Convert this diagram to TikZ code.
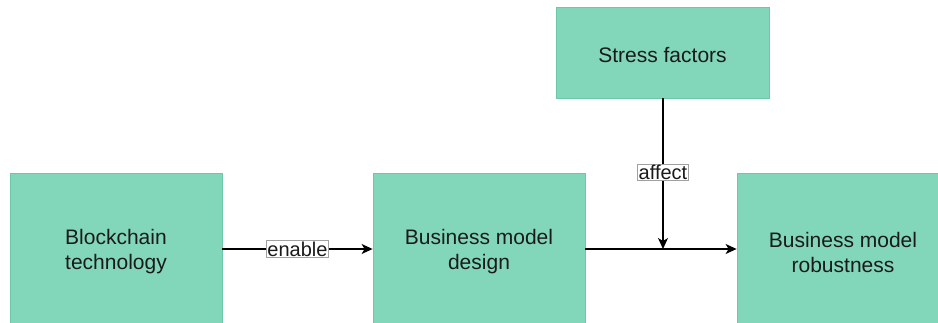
\documentclass[tikz,border=0pt]{standalone}
\usepackage{fontspec}
\setmainfont{Liberation Sans}
\usetikzlibrary{arrows.meta}
\definecolor{boxfill}{HTML}{82D7BB}
\definecolor{boxline}{HTML}{6CC9A7}
\definecolor{lblline}{HTML}{A0A0A0}
\definecolor{ink}{HTML}{1A1A1A}
\tikzset{
  x=1pt, y=1pt,
  block/.style={draw=boxline, fill=boxfill, line width=0.8pt,
    minimum width=212pt, minimum height=152pt, inner sep=0pt,
    label={[align=center, text=ink, yshift=-3pt,
      font=\fontsize{21}{25}\selectfont]center:#1}},
  conn/.style={line width=1.4pt, -{Stealth[length=11pt,width=10pt,inset=3pt]}},
  tag/.style={draw=lblline, fill=white, line width=0.5pt, inner sep=1pt,
    text=ink, font=\fontsize{20}{22}\selectfont}
}
\begin{document}
\begin{tikzpicture}
\useasboundingbox (0,0) rectangle (938,322);
\clip (0,0) rectangle (938,322);
\node[block={Blockchain\\technology}] (bc) at (116,73) {};
\node[block={Business model\\design}] (bmd) at (479,73) {};
\node[block={Business model\\robustness}] (bmr) at (843,73) {};
\node[block={Stress factors}, minimum width=213pt, minimum height=91pt] (sf) at (662.5,269.5) {};
\coordinate (jn) at (663,73);
\draw[conn] (bc.east) -- node[tag] {enable} (bmd.west);
\draw[line width=1.4pt] (bmd.east) -- (jn);
\draw[conn] (jn) -- (bmr.west);
\draw[conn] (sf.south -| jn) -- node[tag, pos=0.49] {affect} (jn);
\end{tikzpicture}
\end{document}
